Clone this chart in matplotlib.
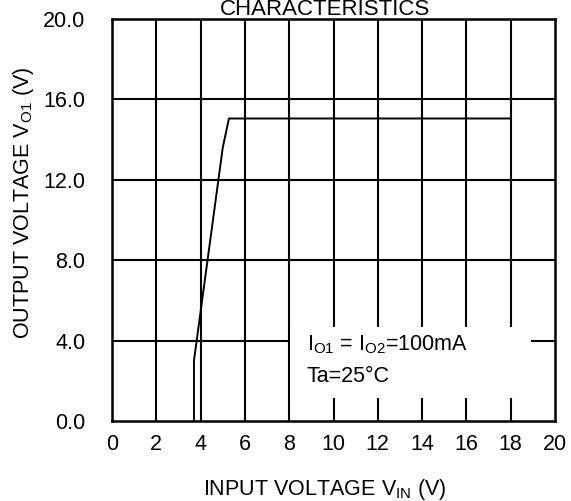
import matplotlib.pyplot as plt

plt.rcParams["font.family"] = ["Liberation Sans", "DejaVu Sans"]
plt.rcParams["mathtext.fontset"] = "custom"
plt.rcParams["mathtext.rm"] = "Liberation Sans"

# curve
vin = [3.7, 3.7, 5.0, 5.28, 18.0]
vout = [0.0, 3.0, 13.6, 15.05, 15.05]

x_ticks = [0, 2, 4, 6, 8, 10, 12, 14, 16, 18, 20]
y_ticks = [0.0, 4.0, 8.0, 12.0, 16.0, 20.0]

fs = 15.5

fig = plt.figure(figsize=(5.71, 5.01), dpi=100)
ax = fig.add_axes([112 / 571, 1 - 421 / 501, (555 - 112) / 571, (421 - 19) / 501])

ax.set_xlim(0, 20)
ax.set_ylim(0, 20)
for x in x_ticks[1:-1]:
    ax.axvline(x, color="black", lw=1.5, zorder=1)
for y in y_ticks[1:-1]:
    ax.axhline(y, color="black", lw=1.5, zorder=1)

ax.plot(vin, vout, color="black", lw=1.4, zorder=3)

# white label box hiding the grid
ax.add_patch(plt.Rectangle((8.05, 1.15), 10.85, 3.55, facecolor="white",
                           edgecolor="none", zorder=2))
ax.text(8.8, 3.8, "I$_{\\mathrm{O1}}$ = I$_{\\mathrm{O2}}$=100mA", fontsize=fs,
        va="center", zorder=4)
ax.text(8.8, 2.2, "Ta=25°C", fontsize=fs, va="center", zorder=4)

ax.set_xticks(x_ticks)
ax.set_yticks(y_ticks)
ax.set_yticklabels(["%.1f" % v for v in y_ticks])
ax.tick_params(length=0, labelsize=fs)
ax.tick_params(axis="x", pad=9)
ax.tick_params(axis="y", pad=19)
for s in ax.spines.values():
    s.set_linewidth(1.8)

fig.text(325 / 571, 1 - 15 / 501, "CHARACTERISTICS", fontsize=16,
         ha="center", va="baseline")
fig.text(325 / 571, 1 - 490 / 501, "INPUT VOLTAGE V$_{\\mathrm{IN}}$ (V)",
         fontsize=fs, ha="center", va="center")
fig.text(24 / 571, 1 - 203 / 501, "OUTPUT VOLTAGE V$_{\\mathrm{O1}}$ (V)",
         fontsize=fs, ha="center", va="center", rotation=90)

plt.savefig("out.png")
